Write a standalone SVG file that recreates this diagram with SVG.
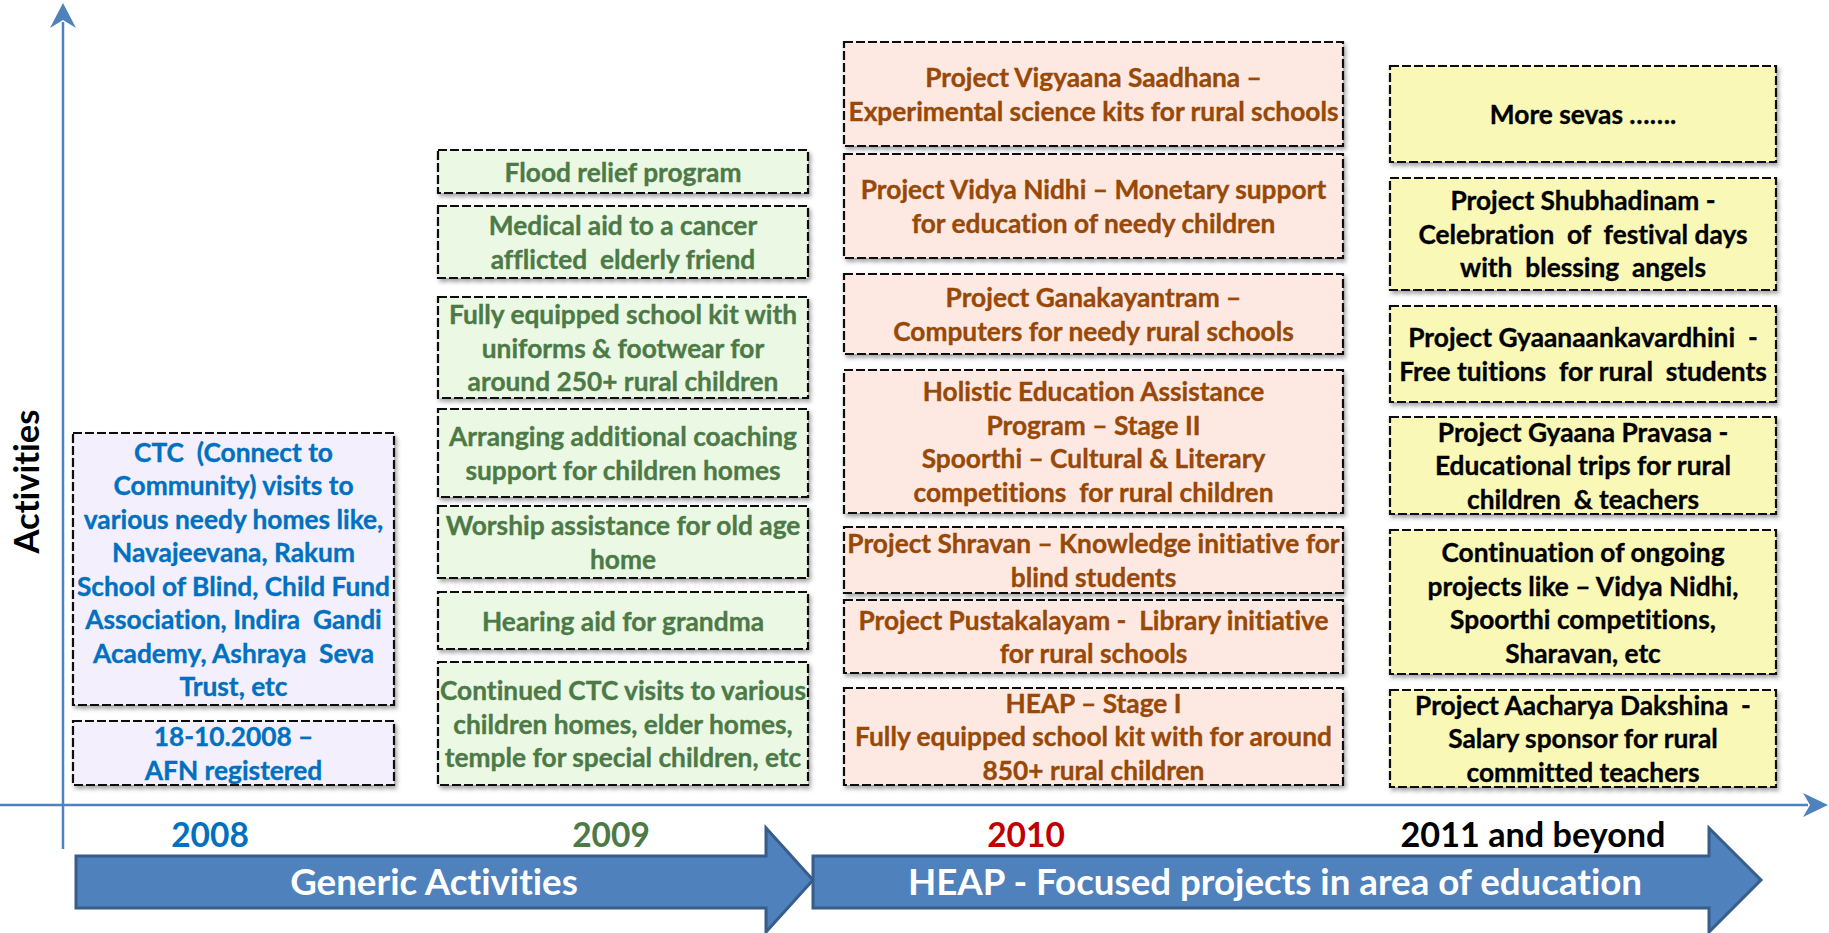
<svg xmlns="http://www.w3.org/2000/svg" width="1829" height="933" viewBox="0 0 1829 933">
<style>
text{font-variant-ligatures:none}
.t{font-family:Lato,"Open Sans","Liberation Sans",sans-serif;font-weight:700;font-size:26.3px;text-anchor:middle;white-space:pre;stroke-width:0.35px}
.box rect{stroke:#111;stroke-width:2.2;stroke-dasharray:9 3;filter:url(#sh)}
.pu rect{fill:#F3EFFD}.pu text{fill:#0070C0;stroke:#0070C0}
.gr rect{fill:#EBF8E3}.gr text{fill:#4C7A47;stroke:#4C7A47}
.or rect{fill:#FDE9E1}.or text{fill:#984807;stroke:#984807}
.ye rect{fill:#FAF8B6}.ye text{fill:#000;stroke:#000}
.yr{font-family:Lato,"Open Sans","Liberation Sans",sans-serif;font-weight:700;font-size:33.5px;text-anchor:middle}
.big polygon{fill:#4F81BD;stroke:#385D8A;stroke-width:3}
.big text{font-family:Lato,"Open Sans","Liberation Sans",sans-serif;font-weight:700;font-size:36.7px;text-anchor:middle;fill:#fff}
.ax{stroke:#4F81BD;stroke-width:2.5;fill:none}
</style>
<defs>
<filter id="sh" x="-5%" y="-10%" width="115%" height="130%">
<feDropShadow dx="2" dy="3" stdDeviation="2" flood-color="#000" flood-opacity="0.35"/>
</filter>
</defs>
<g id="axes">
<line class="ax" x1="0" y1="805" x2="1808" y2="805"/>
<polygon points="1828,805 1803,793 1810,805 1803,817" fill="#4F81BD"/>
<line class="ax" x1="63" y1="849" x2="63" y2="22"/>
<polygon points="63,3 50,28 63,20 76,28" fill="#4F81BD"/>
</g>
<g id="axis-label">
<text class="yr" style="font-size:34.5px" transform="translate(39,481.5) rotate(-90)" fill="#000">Activities</text>
</g>
<g id="years">
<text class="yr" x="210" y="847" fill="#0070C0">2008</text>
<text class="yr" x="611" y="847" fill="#4C7A47">2009</text>
<text class="yr" x="1026" y="847" fill="#C00000">2010</text>
<text class="yr" x="1533" y="847" fill="#000" style="font-size:34.2px">2011 and beyond</text>
</g>
<g id="n2008-ctc" class="box pu">
<rect x="73" y="433" width="321" height="272"/>
<text class="t" x="233.5" y="461.5">CTC  (Connect to</text>
<text class="t" x="233.5" y="495">Community) visits to</text>
<text class="t" x="233.5" y="528.5">various needy homes like,</text>
<text class="t" x="233.5" y="562">Navajeevana, Rakum</text>
<text class="t" x="233.5" y="595.5">School of Blind, Child Fund</text>
<text class="t" x="233.5" y="629">Association, Indira  Gandi</text>
<text class="t" x="233.5" y="662.5">Academy, Ashraya  Seva</text>
<text class="t" x="233.5" y="696">Trust, etc</text>
</g>
<g id="n2008-afn" class="box pu">
<rect x="73" y="721" width="321" height="64"/>
<text class="t" x="233.5" y="746">18-10.2008 –</text>
<text class="t" x="233.5" y="779.5">AFN registered</text>
</g>
<g id="n2009-flood" class="box gr">
<rect x="438" y="150" width="370" height="43"/>
<text class="t" x="623" y="181.5">Flood relief program</text>
</g>
<g id="n2009-medical" class="box gr">
<rect x="438" y="206" width="370" height="72"/>
<text class="t" x="623" y="235">Medical aid to a cancer</text>
<text class="t" x="623" y="268.5">afflicted  elderly friend</text>
</g>
<g id="n2009-kit" class="box gr">
<rect x="438" y="297" width="370" height="101"/>
<text class="t" x="623" y="324">Fully equipped school kit with</text>
<text class="t" x="623" y="357.5">uniforms &amp; footwear for</text>
<text class="t" x="623" y="391">around 250+ rural children</text>
</g>
<g id="n2009-coaching" class="box gr">
<rect x="438" y="409" width="370" height="88"/>
<text class="t" x="623" y="446">Arranging additional coaching</text>
<text class="t" x="623" y="479.5">support for children homes</text>
</g>
<g id="n2009-worship" class="box gr">
<rect x="438" y="506" width="370" height="72"/>
<text class="t" x="623" y="535">Worship assistance for old age</text>
<text class="t" x="623" y="568.5">home</text>
</g>
<g id="n2009-hearing" class="box gr">
<rect x="438" y="592" width="370" height="57"/>
<text class="t" x="623" y="630.5">Hearing aid for grandma</text>
</g>
<g id="n2009-ctc" class="box gr">
<rect x="438" y="662" width="370" height="123"/>
<text class="t" x="623" y="700">Continued CTC visits to various</text>
<text class="t" x="623" y="733.5">children homes, elder homes,</text>
<text class="t" x="623" y="767">temple for special children, etc</text>
</g>
<g id="n2010-vigyaana" class="box or">
<rect x="844" y="42" width="499" height="104"/>
<text class="t" x="1093.5" y="87">Project Vigyaana Saadhana –</text>
<text class="t" x="1093.5" y="120.5">Experimental science kits for rural schools</text>
</g>
<g id="n2010-vidya" class="box or">
<rect x="844" y="154" width="499" height="104"/>
<text class="t" x="1093.5" y="199">Project Vidya Nidhi – Monetary support</text>
<text class="t" x="1093.5" y="232.5">for education of needy children</text>
</g>
<g id="n2010-ganak" class="box or">
<rect x="844" y="274" width="499" height="80"/>
<text class="t" x="1093.5" y="307">Project Ganakayantram –</text>
<text class="t" x="1093.5" y="340.5">Computers for needy rural schools</text>
</g>
<g id="n2010-holistic" class="box or">
<rect x="844" y="370" width="499" height="143"/>
<text class="t" x="1093.5" y="401">Holistic Education Assistance</text>
<text class="t" x="1093.5" y="434.5">Program – Stage II</text>
<text class="t" x="1093.5" y="468">Spoorthi – Cultural &amp; Literary</text>
<text class="t" x="1093.5" y="501.5">competitions  for rural children</text>
</g>
<g id="n2010-shravan" class="box or">
<rect x="844" y="527" width="499" height="66"/>
<text class="t" x="1093.5" y="553">Project Shravan – Knowledge initiative for</text>
<text class="t" x="1093.5" y="586.5">blind students</text>
</g>
<g id="n2010-pustak" class="box or">
<rect x="844" y="600" width="499" height="73"/>
<text class="t" x="1093.5" y="629.5">Project Pustakalayam -  Library initiative</text>
<text class="t" x="1093.5" y="663">for rural schools</text>
</g>
<g id="n2010-heap" class="box or">
<rect x="844" y="688" width="499" height="97"/>
<text class="t" x="1093.5" y="712.5">HEAP – Stage I</text>
<text class="t" x="1093.5" y="746">Fully equipped school kit with for around</text>
<text class="t" x="1093.5" y="779.5">850+ rural children</text>
</g>
<g id="n2011-more" class="box ye">
<rect x="1390" y="66" width="386" height="96"/>
<text class="t" x="1583" y="124">More sevas …….</text>
</g>
<g id="n2011-shubha" class="box ye">
<rect x="1390" y="178" width="386" height="112"/>
<text class="t" x="1583" y="210">Project Shubhadinam -</text>
<text class="t" x="1583" y="243.5">Celebration  of  festival days</text>
<text class="t" x="1583" y="277">with  blessing  angels</text>
</g>
<g id="n2011-gyaanaank" class="box ye">
<rect x="1390" y="306" width="386" height="96"/>
<text class="t" x="1583" y="347">Project Gyaanaankavardhini  -</text>
<text class="t" x="1583" y="380.5">Free tuitions  for rural  students</text>
</g>
<g id="n2011-pravasa" class="box ye">
<rect x="1390" y="417" width="386" height="97"/>
<text class="t" x="1583" y="441.5">Project Gyaana Pravasa -</text>
<text class="t" x="1583" y="475">Educational trips for rural</text>
<text class="t" x="1583" y="508.5">children  &amp; teachers</text>
</g>
<g id="n2011-continuation" class="box ye">
<rect x="1390" y="530" width="386" height="144"/>
<text class="t" x="1583" y="562">Continuation of ongoing</text>
<text class="t" x="1583" y="595.5">projects like – Vidya Nidhi,</text>
<text class="t" x="1583" y="629">Spoorthi competitions,</text>
<text class="t" x="1583" y="662.5">Sharavan, etc</text>
</g>
<g id="n2011-aacharya" class="box ye">
<rect x="1390" y="690" width="386" height="97"/>
<text class="t" x="1583" y="714.5">Project Aacharya Dakshina  -</text>
<text class="t" x="1583" y="748">Salary sponsor for rural</text>
<text class="t" x="1583" y="781.5">committed teachers</text>
</g>
<g id="phase-generic" class="big">
<polygon points="76,856 766,856 766,828 813,880 766,932 766,908 76,908"/>
<text x="434" y="895">Generic Activities</text>
</g>
<g id="phase-heap" class="big">
<polygon points="813,856 1709,856 1709,828 1761,880 1709,932 1709,908 813,908"/>
<text x="1275" y="895">HEAP - Focused projects in area of education</text>
</g>
</svg>
